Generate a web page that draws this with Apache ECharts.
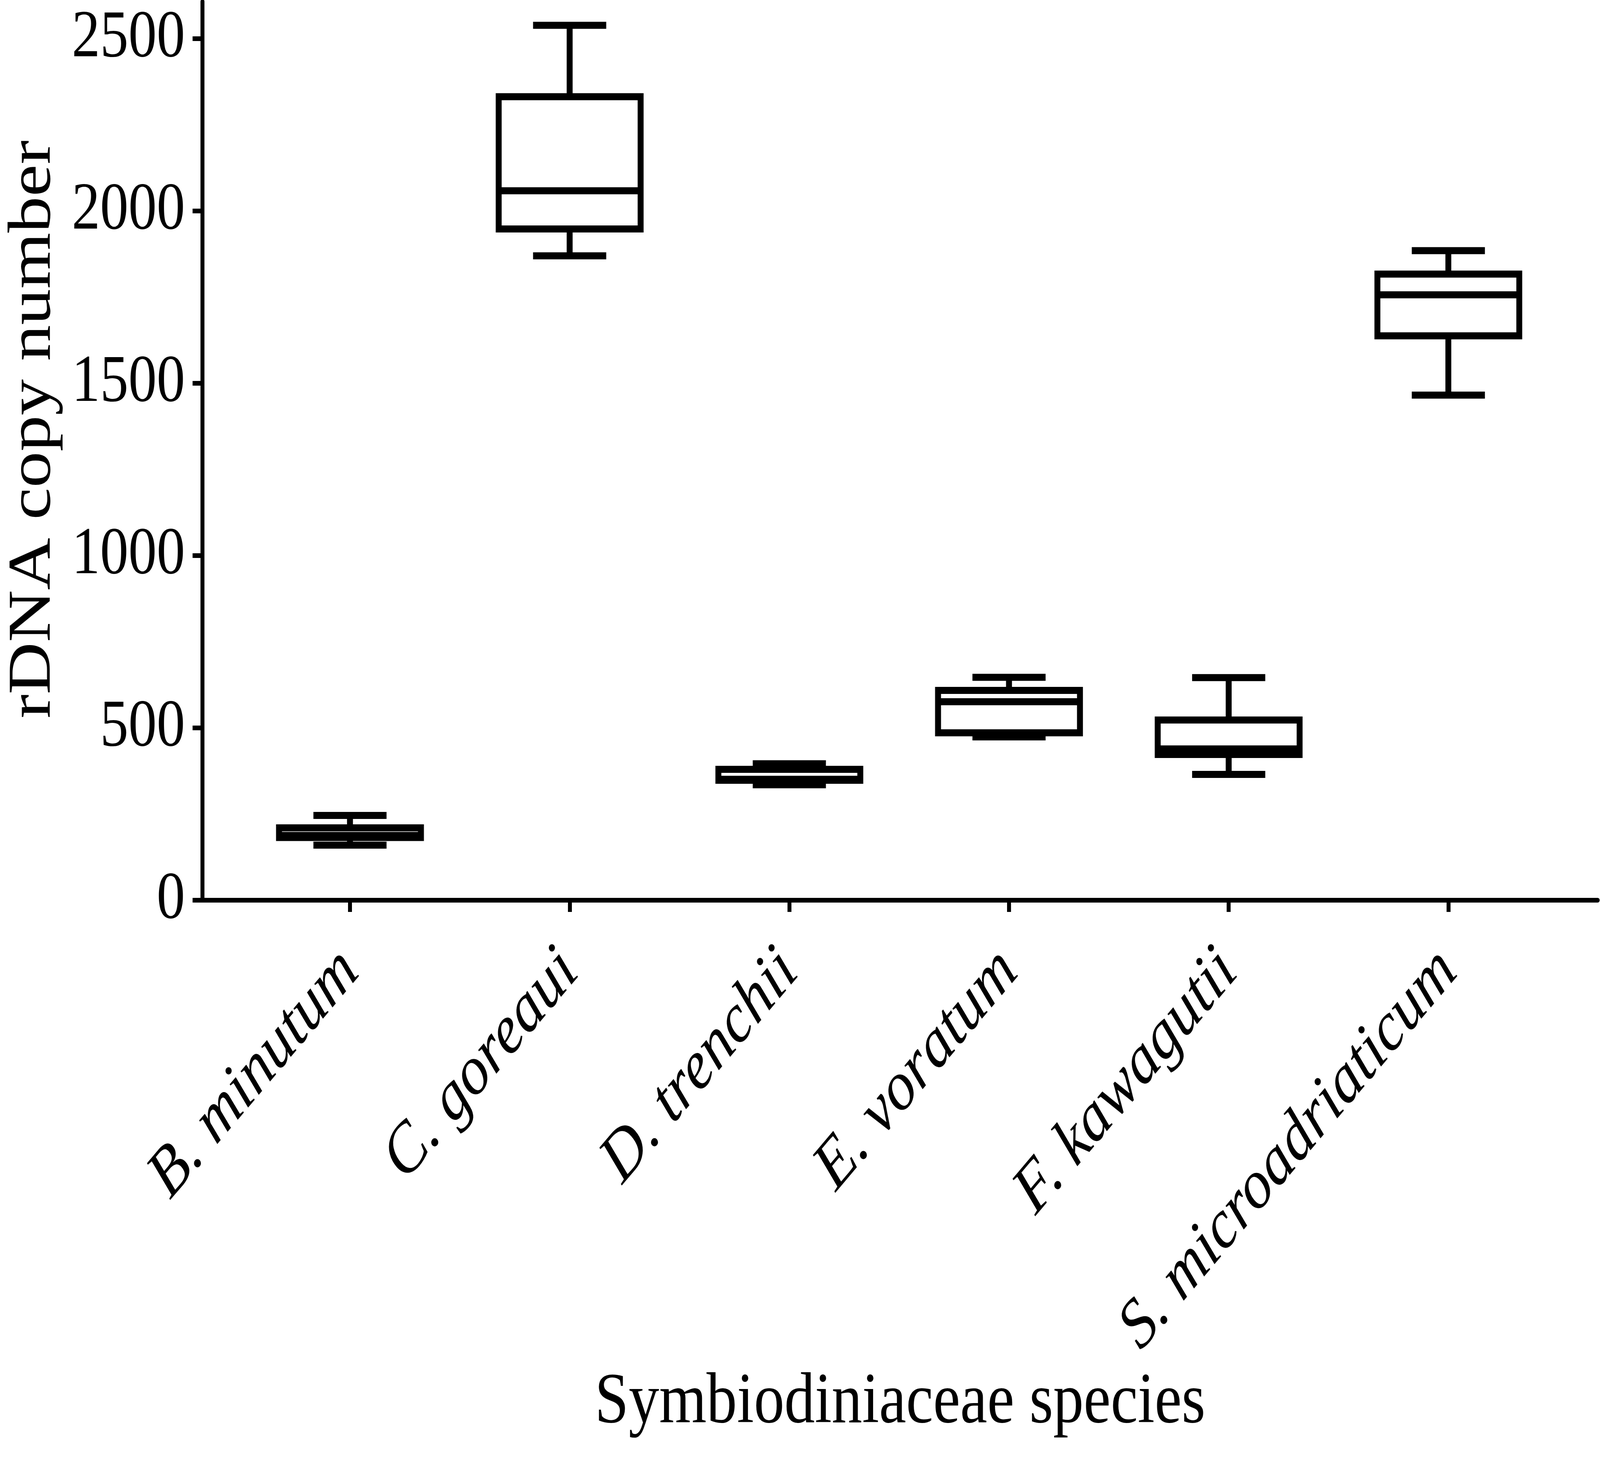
<!DOCTYPE html>
<html>
<head>
<meta charset="utf-8">
<title>rDNA copy number</title>
<script src="https://cdn.jsdelivr.net/npm/echarts@6/dist/echarts.min.js"></script>
<style>
  html, body { margin: 0; padding: 0; background: #fff; overflow: hidden; }
  #chart { width: 4860px; height: 3729px; transform-origin: 0 0; }
</style>
</head>
<body>
<div id="chart"></div>
<script>
// species on the x axis
var categories = ['B. minutum', 'C. goreaui', 'D. trenchii', 'E. voratum', 'F. kawagutii', 'S. microadriaticum'];
// box statistics (min, Q1, median, Q3, max)
var minValues    = [160, 1870, 335, 474, 365, 1466];
var q1Values     = [182, 1948, 348, 486, 423, 1638];
var medianValues = [188, 2059, 351, 576, 439, 1757];
var q3Values     = [210, 2332, 380, 609, 523, 1817];
var maxValues    = [246, 2539, 396, 647, 646, 1885];
// tick positions
var yTicks = [0, 500, 1000, 1500, 2000, 2500];
var xTicks = [0, 1, 2, 3, 4, 5];

var FONT = '"Times New Roman", "Liberation Serif", serif';
var BOX_WIDTH = 0.646;   // in category units
var CAP_WIDTH = 0.333;
var LINE_W = 18;

// the picture is laid out at 4860 wide; squeeze it if the window is narrower
var el = document.getElementById('chart');
var sx = Math.min(1, window.innerWidth / 4860);
if (sx < 1) {
	el.style.transform = 'scale(' + sx + ', 1)';
}

var data = [];
for (var i = 0; i < categories.length; i++) {
	data.push([i, minValues[i], q1Values[i], medianValues[i], q3Values[i], maxValues[i]]);
}

function lineStyle() {
	return { stroke: '#000', lineWidth: LINE_W, fill: null, lineCap: 'butt', lineJoin: 'miter' };
}

// box + whiskers, caps are half the box width
function renderBox(params, api) {
	var x = api.value(0);
	var lo = api.coord([x, api.value(1)]);
	var q1 = api.coord([x, api.value(2)]);
	var md = api.coord([x, api.value(3)]);
	var q3 = api.coord([x, api.value(4)]);
	var hi = api.coord([x, api.value(5)]);
	var cx = lo[0];
	var bw = api.size([BOX_WIDTH, 0])[0];
	var cw = api.size([CAP_WIDTH, 0])[0];
	return {
		type: 'group',
		children: [
			{ type: 'line', shape: { x1: cx, y1: hi[1], x2: cx, y2: q3[1] }, style: lineStyle() },
			{ type: 'line', shape: { x1: cx, y1: q1[1], x2: cx, y2: lo[1] }, style: lineStyle() },
			{ type: 'line', shape: { x1: cx - cw / 2, y1: hi[1], x2: cx + cw / 2, y2: hi[1] }, style: lineStyle() },
			{ type: 'line', shape: { x1: cx - cw / 2, y1: lo[1], x2: cx + cw / 2, y2: lo[1] }, style: lineStyle() },
			{ type: 'rect', shape: { x: cx - bw / 2, y: q3[1], width: bw, height: q1[1] - q3[1] }, style: lineStyle() },
			{ type: 'line', shape: { x1: cx - bw / 2, y1: md[1], x2: cx + bw / 2, y2: md[1] }, style: lineStyle() }
		]
	};
}

var chart = echarts.init(el, null, { renderer: 'canvas' });
var option = {
	backgroundColor: '#fff',
	animation: false,
	grid: { left: 615, right: 7, top: 4, bottom: 1425, containLabel: false },
	xAxis: {
		type: 'value',
		min: -0.6715,
		max: 5.68,
		name: 'Symbiodiniaceae species',
		nameLocation: 'middle',
		nameGap: 1195,
		nameTextStyle: { fontFamily: FONT, fontSize: 185, color: '#000' },
		axisLine: { show: true, onZero: false, lineStyle: { color: '#000', width: 12 } },
		axisTick: { show: true, length: 30, customValues: xTicks, lineStyle: { color: '#000', width: 12 } },
		axisLabel: {
			customValues: xTicks,
			rotate: 45,
			margin: 155,
			fontFamily: FONT,
			fontStyle: 'italic',
			fontSize: 178,
			color: '#000',
			formatter: function(v) { return categories[v]; }
		},
		splitLine: { show: false }
	},
	yAxis: {
		type: 'value',
		min: 0,
		max: 2608,
		name: 'rDNA copy number',
		nameLocation: 'middle',
		nameRotate: 90,
		nameGap: 420,
		nameTextStyle: { fontFamily: FONT, fontSize: 185, color: '#000', padding: [0, 0, 0, 110] },
		axisLine: { show: true, onZero: false, lineStyle: { color: '#000', width: 12 } },
		axisTick: { show: true, length: 30, customValues: yTicks, lineStyle: { color: '#000', width: 12 } },
		axisLabel: {
			customValues: yTicks,
			margin: 53,
			fontFamily: FONT,
			fontSize: 172,
			color: '#000',
			formatter: function(v) { return String(v); }
		},
		splitLine: { show: false }
	},
	series: [{
		type: 'custom',
		renderItem: renderBox,
		clip: false,
		encode: { x: 0, y: [1, 2, 3, 4, 5] },
		data: data
	}]
};
chart.setOption(option);
</script>
</body>
</html>
